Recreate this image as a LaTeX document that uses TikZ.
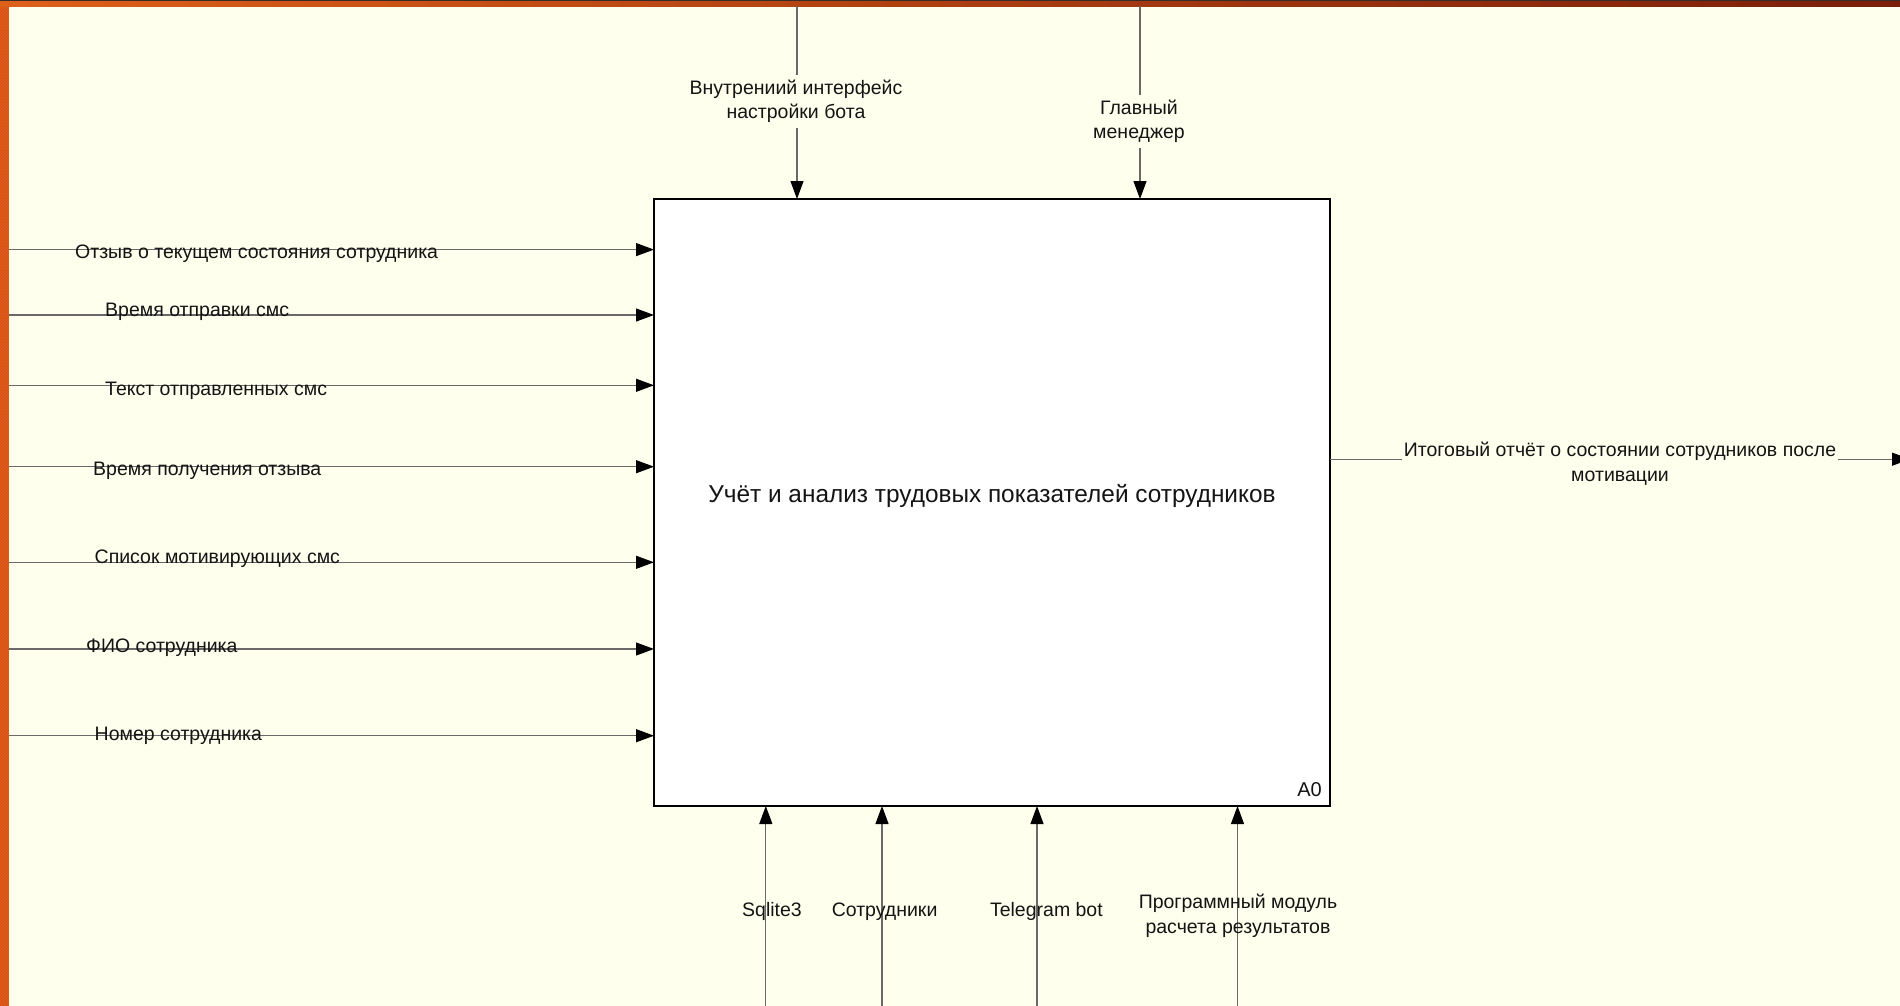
\documentclass[tikz,border=0pt]{standalone}
\usepackage{fontspec}
\setmainfont{Liberation Sans}
\usetikzlibrary{arrows.meta,patterns}
\definecolor{bg}{RGB}{255,255,238}
\definecolor{strip}{RGB}{226,92,26}
\definecolor{stripdk}{RGB}{205,78,22}
\definecolor{topL}{RGB}{222,96,24}
\definecolor{topR}{RGB}{122,30,10}
\definecolor{topline}{RGB}{55,45,40}
\definecolor{conn}{RGB}{105,105,105}
\definecolor{txt}{RGB}{20,20,20}
\begin{document}
\begin{tikzpicture}[x=1pt,y=-1pt,
  arr/.style={draw=conn, line width=1.1pt, -{Triangle[length=18pt,width=13pt,color=black]}},
  lbl/.style={font=\fontsize{19.5}{24.5}\selectfont, text=txt, inner sep=0pt},
  gap/.style={lbl, fill=bg, align=center, inner xsep=2pt, inner ysep=5pt},
]
% background and frame
\useasboundingbox (0,0) rectangle (1900,1006);
\fill[bg] (0,0) rectangle (1900,1006);
\fill[strip] (0,0) rectangle (8.5,1006);
\fill[pattern=north east lines, pattern color=stripdk] (0,0) rectangle (8.5,1006);
\shade[left color=topL, right color=topR] (0,0) rectangle (1900,6.5);
\fill[topline] (0,0) rectangle (1900,1.5);

% main box
\node[draw=black, fill=white, line width=1.8pt, inner sep=0pt, outer sep=0pt,
      minimum width=676pt, minimum height=607pt, anchor=north west] (box) at (654,199) {};
\node[font=\fontsize{24.4}{29}\selectfont, text=txt, anchor=base, inner sep=0pt] (title) at (992,502)
  {Учёт и анализ трудовых показателей сотрудников};
\node[font=\fontsize{20}{24}\selectfont, text=txt, anchor=base east, inner sep=0pt] (a0) at (1322,796) {A0};

% inputs (left)
\foreach \n/\y in {1/249.6,2/315,3/385.3,4/466.7,5/562.3,6/649,7/735.7}{
  \coordinate (in\n) at (8.5,\y);
  \draw[arr] (in\n) -- (in\n -| box.west);
}
\node[lbl, anchor=base west] (li1) at (75,258) {Отзыв о текущем состояния сотрудника};
\node[lbl, anchor=base west] (li2) at (105,316) {Время отправки смс};
\node[lbl, anchor=base west] (li3) at (105,395) {Текст отправленных смс};
\node[lbl, anchor=base west] (li4) at (93,475) {Время получения отзыва};
\node[lbl, anchor=base west] (li5) at (94.5,563) {Список мотивирующих смс};
\node[lbl, anchor=base west] (li6) at (86,652) {ФИО сотрудника};
\node[lbl, anchor=base west] (li7) at (94.5,740) {Номер сотрудника};

% controls (top)
\coordinate (ct1) at (797,6.5);
\coordinate (ct2) at (1140,6.5);
\draw[arr] (ct1) -- (ct1 |- box.north);
\draw[arr] (ct2) -- (ct2 |- box.north);
\node[gap] (lt1) at (796,101.5) {Внутрениий интерфейс\\настройки бота};
\node[gap] (lt2) at (1139,121.5) {Главный\\менеджер};

% output (right)
\coordinate (out1) at (1910,459.2);
\draw[arr] (out1 -| box.east) -- (out1);
\node[gap, inner ysep=3pt] (lo1) at (1620,463.5) {Итоговый отчёт о состоянии сотрудников после\\мотивации};

% mechanisms (bottom)
\foreach \n/\x in {1/765.8,2/882,3/1037,4/1237.5}{
  \coordinate (cb\n) at (\x,1010);
  \draw[arr] (cb\n) -- (cb\n |- box.south);
}
\node[lbl, anchor=base] (lb1) at (772,916) {Sqlite3};
\node[lbl, anchor=base] (lb2) at (884.6,916) {Сотрудники};
\node[lbl, anchor=base] (lb3) at (1046.4,916) {Telegram bot};
\node[lbl, align=center] (lb4) at (1238,916) {Программный модуль\\расчета результатов};
\end{tikzpicture}
\end{document}
